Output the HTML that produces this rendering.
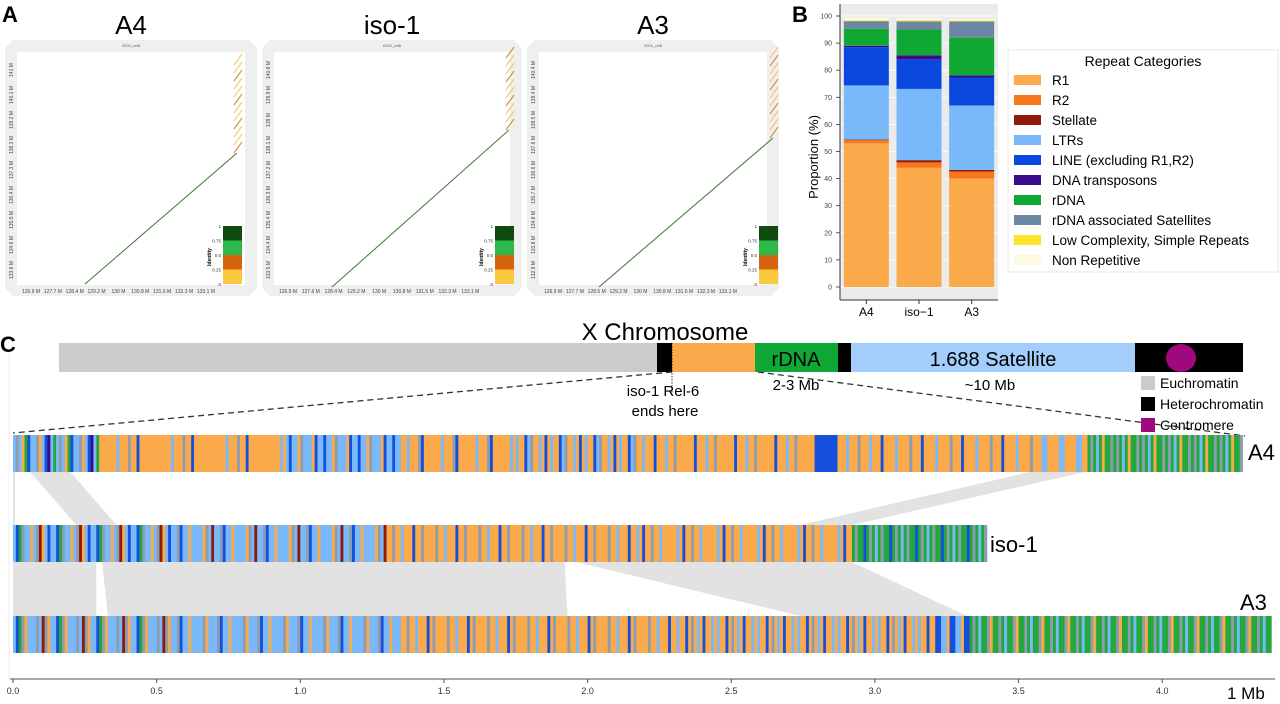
<!DOCTYPE html>
<html><head><meta charset="utf-8"><style>
html,body{margin:0;padding:0;background:#fff}
svg{display:block;font-family:"Liberation Sans","DejaVu Sans",sans-serif}
</style></head><body>
<svg id="fig" width="1280" height="704" viewBox="0 0 1280 704" xmlns="http://www.w3.org/2000/svg">
<g id="panelA"></g>
<g id="panelB"></g>
<g id="panelC"></g>
</svg>
<script>
// ---------- Panel B data ----------
const bCategories = ["A4","iso\u22121","A3"];
const repeatNames = ["R1","R2","Stellate","LTRs","LINE (excluding R1,R2)","DNA transposons","rDNA","rDNA associated Satellites","Low Complexity, Simple Repeats","Non Repetitive"];
const repeatColors = ["#fbaa4b","#f8771a","#8e1a0b","#79b9fa","#0a47de","#3b0b8c","#10a834","#6c87a3","#fde22a","#fdfbdf"];
const valsA4  = [53,1.2,0.2,20,14.1,0.5,6.3,2.8,0.3,1.0];
const valsIso = [44,2,0.8,26.3,10.9,1.5,9.5,3,0.4,0.8];
const valsA3  = [40,2.6,0.6,23.8,10.3,0.8,13.9,6,0.3,0.5];
const bSeries = [valsA4, valsIso, valsA3];
const bTicks = [0,10,20,30,40,50,60,70,80,90,100];

// ---------- Panel C data ----------
const codeColors = {o:"#fbaa4b",r:"#f8771a",s:"#8e1a0b",l:"#79b9fa",L:"#1450dc",d:"#3b0b8c",g:"#23a83c",a:"#8e9cb0",y:"#fde22a"};
const genomeNames = ["A4","iso-1","A3"];
const regionsA4 = [[0,0.3,"lalogLllaolLdlg"],[0.3,0.95,"ooooooloooaooLooooo"],[0.95,1.35,"lLlloallloLl"],[1.35,1.75,"ooloooaLoooo"],[1.75,2.2,"looLlaooloLo"],[2.2,2.8,"oooLooolooaooo"],[2.8,2.87,"LLLLLLL"],[2.87,3.0,"oooloooa"],[3.0,3.55,"ooLoooolooooao"],[3.55,3.74,"ooollo"],[3.74,4.28,"gaglgogga"]];
const regionsIso = [[0,0.55,"lLgallolasolLl"],[0.55,1.3,"llaLllolllloals"],[1.3,2.15,"ooaooloooLooaoo"],[2.15,2.92,"ooloLooaoolooo"],[2.92,3.39,"gaggLgagl"]];
const regionsA3 = [[0,0.55,"lLgaolllalsaol"],[0.55,1.35,"llaLllollllaol"],[1.35,2.3,"ooaooloooLoaoo"],[2.3,3.2,"olooLoaoloLool"],[3.2,3.33,"oLLll"],[3.33,4.38,"gaglggaog"]];
const genomeRegions = [regionsA4, regionsIso, regionsA3];
const xTicks = [0.0,0.5,1.0,1.5,2.0,2.5,3.0,3.5,4.0];
// synteny ribbons
const ribbonFrom = [0,0,1,1,1];
const ribbonFromStart = [0.06,3.54,0,0.31,1.96];
const ribbonFromEnd   = [0.2,3.73,0.29,1.92,2.92];
const ribbonToStart   = [0.22,2.74,0,0.33,2.74];
const ribbonToEnd     = [0.36,2.92,0.29,1.93,3.32];

// ---------- Panel A data ----------
const dotTitles = ["A4","iso-1","A3"];
const dotX0 = [5,262,527];
const dotXTicks = [["126.9 M","127.7 M","128.4 M","129.2 M","130 M","130.8 M","131.6 M","132.3 M","133.1 M"],["126.9 M","127.6 M","128.4 M","129.2 M","130 M","130.8 M","131.5 M","132.3 M","133.1 M"],["126.9 M","127.7 M","128.5 M","129.2 M","130 M","130.8 M","131.6 M","132.3 M","133.1 M"]];
const dotYTicks = [["133.6 M","134.6 M","135.5 M","136.4 M","137.3 M","138.3 M","139.2 M","140.1 M","141 M"],["133.5 M","134.4 M","135.4 M","136.3 M","137.2 M","138.1 M","139 M","139.9 M","140.8 M"],["132.9 M","133.8 M","134.8 M","135.7 M","136.6 M","137.6 M","138.5 M","139.4 M","140.4 M"]];
const diagStart = [[85,284],[70,287],[72,287]];
const diagEnd = [[237,153],[247,130],[246,138]];

const NS="http://www.w3.org/2000/svg";
function mk(tag,attrs,parent,text){const e=document.createElementNS(NS,tag);for(const k in attrs)e.setAttribute(k,attrs[k]);if(text!==undefined)e.textContent=text;parent.appendChild(e);return e;}

// ===== Panel A =====
const pA=document.getElementById('panelA');
let lbl=mk('text',{x:2,y:22,'font-size':22,'font-weight':'bold'},pA,'A');


for(let i=0;i<3;i++){
  const x0=dotX0[i], w=i===0?252:(i===1?260:252);
  const g=mk('g',{},pA);
  
  
  const fr=mk('path',{d:`M${x0+8},40 L${x0+w-8},40 L${x0+w},48 L${x0+w},288 L${x0+w-8},296 L${x0+8},296 L${x0},288 L${x0},48 Z`,fill:'#efefef'},g);
  
  
  const ix=x0+12, iw=w-24;
  const inner=mk('rect',{x:ix,y:52,width:iw,height:233,fill:'#fff'},g);
  
  
  const t=mk('text',{x:x0+w/2,y:34,'font-size':26,'text-anchor':'middle'},g,dotTitles[i]);
  
  
  mk('text',{x:x0+w/2,y:47,'font-size':4,'text-anchor':'middle',fill:'#555'},g,'ISO1_rel6');
  for(let k=0;k<9;k++){
    const tx=ix+14+k*(iw-40)/8.6;
    const tl=mk('text',{x:tx,y:293,'font-size':5,'text-anchor':'middle',fill:'#444'},g,dotXTicks[i][k]);
    
    
    const ty=270-k*25;
    const yl=mk('text',{x:ix-4,y:ty,'font-size':5,'text-anchor':'middle',fill:'#444',transform:`rotate(-90 ${ix-4} ${ty})`},g,dotYTicks[i][k]);
    
    
  }
  const sx=(i===0?diagStart[i][0]:x0+diagStart[i][0]), ex=(i===0?diagEnd[i][0]:x0+diagEnd[i][0]);
  const dl=mk('line',{x1:sx,y1:diagStart[i][1],x2:ex,y2:diagEnd[i][1],stroke:'#3c7a35','stroke-width':1},g);
  
  
  for(let k=0;k<12;k++){
    const yy=diagEnd[i][1]-k*8;
    if(yy<58)break;
    const dd=mk('line',{x1:ex-3,y1:yy,x2:ex+5,y2:yy-11,stroke:k%3===0?'#d9761a':'#f4c04a','stroke-width':1},g);
    
    
  }
  const lx=ex-14, ly=226, cols=['#0f4a0f','#2db84a','#d4640f','#fbc93e'];
  for(let k=0;k<4;k++){
    const r=mk('rect',{x:lx,y:ly+k*14.5,width:19,height:14.5,fill:cols[k]},g);
    
    
  }
  ['1','0.75','0.5','0.25','0'].forEach((s,k)=>mk('text',{x:lx-2,y:ly+2+k*14.5,'font-size':4.5,'text-anchor':'end',fill:'#333'},g,s));
  mk('text',{x:lx-12,y:ly+40,'font-size':5,'font-weight':'bold',transform:`rotate(-90 ${lx-12} ${ly+40})`},g,'Identity');
}

// ===== Panel B =====
const pB=document.getElementById('panelB');
lbl=mk('text',{x:792,y:22,'font-size':22,'font-weight':'bold'},pB,'B');


const bx0=840,bx1=998,by0=287,by100=16;
const yS=v=>by0-(by0-by100)*v/100;
const bg=mk('rect',{x:bx0,y:4,width:bx1-bx0,height:296,fill:'#ebebeb'},pB);


bTicks.forEach(t=>{
  mk('line',{x1:bx0,x2:bx1,y1:yS(t),y2:yS(t),stroke:'#fff','stroke-width':0.8},pB);
  const tl=mk('text',{x:bx0-8,y:yS(t)+2.5,'font-size':7,'text-anchor':'end',fill:'#444'},pB,t);
  
  
  mk('line',{x1:bx0-4,x2:bx0,y1:yS(t),y2:yS(t),stroke:'#333','stroke-width':0.8},pB);
});
mk('line',{x1:bx0,x2:bx0,y1:4,y2:300,stroke:'#333','stroke-width':1},pB);
mk('line',{x1:bx0,x2:bx1,y1:300,y2:300,stroke:'#333','stroke-width':1},pB);
const yt=mk('text',{x:818,y:157,'font-size':13,'text-anchor':'middle',transform:'rotate(-90 818 157)'},pB,'Proportion (%)');


const bw=45, bStep=(bx1-bx0)/3;
bCategories.forEach((c,i)=>{
  const cx=bx0+bStep*(i+0.5);
  let cum=0;
  bSeries[i].forEach((v,k)=>{
    const r=mk('rect',{x:cx-bw/2,y:yS(cum+v),width:bw,height:yS(cum)-yS(cum+v),fill:repeatColors[k]},pB);
    
    
    cum+=v;
  });
  mk('line',{x1:cx,x2:cx,y1:300,y2:304,stroke:'#333'},pB);
  const xl=mk('text',{x:cx,y:316,'font-size':12,'text-anchor':'middle'},pB,c);
  
  
});
const lg=mk('g',{},pB);


mk('rect',{x:1008,y:50,width:270,height:222,fill:'#fff',stroke:'#e4e4e4'},lg);
mk('text',{x:1143,y:66,'font-size':14,'text-anchor':'middle'},lg,'Repeat Categories');
repeatNames.forEach((n,k)=>{
  const y=80+k*20;
  const e=mk('g',{},lg);
  
  
  mk('rect',{x:1014,y:y-5,width:27,height:10,fill:repeatColors[k]},e);
  mk('text',{x:1052,y:y+5,'font-size':13.5},e,n);
});

// ===== Panel C =====
const pC=document.getElementById('panelC');
lbl=mk('text',{x:0,y:352,'font-size':22,'font-weight':'bold'},pC,'C');


const xMb=v=>13+v*287.3;
const barY=[435,525,616], barH=37;
const chr=mk('g',{},pC);


[[59,657,'#cbcbcb','euchromatin'],[657,672,'#000','heterochromatin'],[672,755,'#fbaa4b','r1-block'],[755,838,'#10a834','rdna-block'],[838,851,'#000','heterochromatin'],[851,1135,'#a3cdfa','satellite-block'],[1135,1243,'#000','heterochromatin-centromere']].forEach(s=>{
  const r=mk('rect',{x:s[0],y:343,width:s[1]-s[0],height:29,fill:s[2]},chr);
  
  
});
const cen=mk('ellipse',{cx:1181,cy:358,rx:15,ry:14,fill:'#a1087e'},chr);


mk('text',{x:665,y:340,'font-size':24,'text-anchor':'middle','xml:space':'preserve'},chr,'X  Chromosome');
mk('text',{x:796,y:366,'font-size':20,'text-anchor':'middle'},chr,'rDNA');
mk('text',{x:993,y:366,'font-size':20,'text-anchor':'middle'},chr,'1.688 Satellite');
mk('text',{x:796,y:390,'font-size':15,'text-anchor':'middle'},chr,'2-3 Mb');
mk('text',{x:990,y:390,'font-size':15,'text-anchor':'middle'},chr,'~10 Mb');
mk('text',{x:663,y:396,'font-size':15,'text-anchor':'middle'},chr,'iso-1 Rel-6');
mk('text',{x:665,y:416,'font-size':15,'text-anchor':'middle'},chr,'ends here');
mk('line',{x1:672,y1:343,x2:672,y2:395,stroke:'#000','stroke-width':0.8,'stroke-dasharray':'1.5,1.5'},chr);
mk('line',{x1:672,y1:372,x2:13,y2:433,stroke:'#333','stroke-width':1.3,'stroke-dasharray':'6,4'},pC);
mk('line',{x1:758,y1:372,x2:1245,y2:436,stroke:'#333','stroke-width':1.3,'stroke-dasharray':'6,4'},pC);
[['#cbcbcb','Euchromatin'],['#000','Heterochromatin'],['#a1087e','Centromere']].forEach((l,k)=>{
  const e=mk('g',{},pC);
  
  
  mk('rect',{x:1141,y:376+k*21,width:14,height:14,fill:l[0]},e);
  mk('text',{x:1160,y:388+k*21,'font-size':14},e,l[1]);
});
mk('line',{x1:10,x2:1275,y1:679,y2:679,stroke:'#555','stroke-width':1},pC);
mk('line',{x1:9,x2:9,y1:352,y2:679,stroke:'#eee','stroke-width':1},pC);
xTicks.forEach(t=>{
  mk('line',{x1:xMb(t),x2:xMb(t),y1:679,y2:683,stroke:'#555'},pC);
  const tl=mk('text',{x:xMb(t),y:694,'font-size':9,'text-anchor':'middle',fill:'#333'},pC,t.toFixed(1));
  
  
});
mk('text',{x:1227,y:699,'font-size':17},pC,'1 Mb');
mk('rect',{x:13,y:472,width:2,height:144,fill:'#e2e2e2'},pC);
for(let i=0;i<ribbonFrom.length;i++){
  const f=ribbonFrom[i], yTop=barY[f]+barH, yBot=barY[f+1];
  const p=mk('polygon',{points:`${xMb(ribbonFromStart[i])},${yTop} ${xMb(ribbonFromEnd[i])},${yTop} ${xMb(ribbonToEnd[i])},${yBot} ${xMb(ribbonToStart[i])},${yBot}`,fill:'#e2e2e2'},pC);
  
  
}
genomeRegions.forEach((regs,gi)=>{
  const g=mk('g',{},pC);
  
  
  regs.forEach(rg=>{
    const unit=0.01;
    const n=Math.round((rg[1]-rg[0])/unit);
    for(let k=0;k<n;k++){
      const c=rg[2][k%rg[2].length];
      const x=xMb(rg[0]+k*unit);
      const r=mk('rect',{x:x,y:barY[gi],width:xMb(rg[0]+(k+1)*unit)-x+0.3,height:barH,fill:codeColors[c]},g);
      
      
    }
  });
});
let tl;
tl=mk('text',{x:1248,y:460,'font-size':22},pC,'A4');


tl=mk('text',{x:990,y:552,'font-size':22},pC,'iso-1');


tl=mk('text',{x:1240,y:610,'font-size':22},pC,'A3');


</script>
</body></html>
